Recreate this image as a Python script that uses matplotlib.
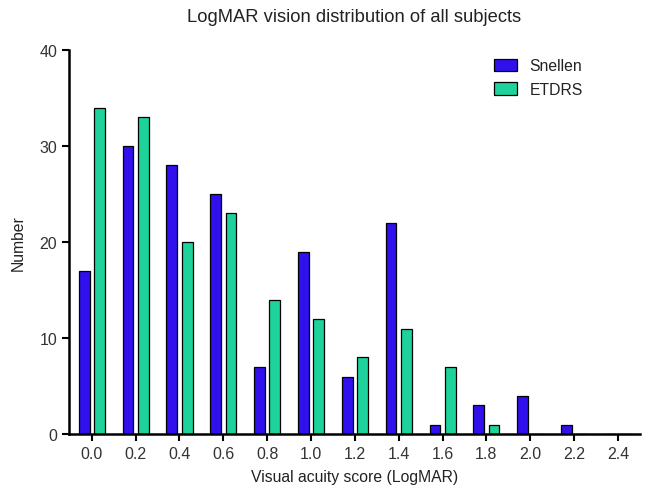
import numpy as np
import matplotlib
matplotlib.use('Agg')
import matplotlib.pyplot as plt

plt.rcParams['font.family'] = ['Liberation Sans', 'DejaVu Sans']
plt.rcParams['text.color'] = '#222222'
plt.rcParams['axes.labelcolor'] = '#222222'
plt.rcParams['xtick.labelcolor'] = '#333333'
plt.rcParams['ytick.labelcolor'] = '#333333'

# data
categories = ['0.0', '0.2', '0.4', '0.6', '0.8', '1.0', '1.2', '1.4', '1.6', '1.8', '2.0', '2.2', '2.4']
snellen = [17, 30, 28, 25, 7, 19, 6, 22, 1, 3, 4, 1, 0]
etdrs = [34, 33, 20, 23, 14, 12, 8, 11, 7, 1, 0, 0, 0]

x = np.arange(len(categories))
width = 0.245
off = 0.175

fig = plt.figure(figsize=(6.45, 4.89), dpi=100)
ax = fig.add_axes([0.107, 0.110, 0.885, 0.786])

ax.bar(x - off, snellen, width, color='#3110EE', edgecolor='black', linewidth=0.9, label='Snellen')
ax.bar(x + off, etdrs, width, color='#1ED29B', edgecolor='black', linewidth=0.9, label='ETDRS')

ax.set_xlim(-0.52, 12.5)
ax.set_ylim(0, 40)
ax.set_yticks([0, 10, 20, 30, 40])
ax.set_xticks(x)
ax.set_xticklabels(categories)

for s in ['top', 'right']:
    ax.spines[s].set_visible(False)
for s in ['left', 'bottom']:
    ax.spines[s].set_linewidth(1.8)
ax.tick_params(axis='both', width=1.5, length=5, labelsize=11.5, color='black')

ax.set_title('LogMAR vision distribution of all subjects', fontsize=13.2, pad=21)
ax.set_xlabel('Visual acuity score (LogMAR)', fontsize=11.3, labelpad=6)
ax.set_ylabel('Number', fontsize=11.3, labelpad=10)

ax.legend(loc='upper right', bbox_to_anchor=(0.925, 1.015), frameon=False, fontsize=11.3,
          handlelength=1.5, handleheight=0.85, handletextpad=0.8, labelspacing=0.55)

fig.savefig('out.png', dpi=100)
